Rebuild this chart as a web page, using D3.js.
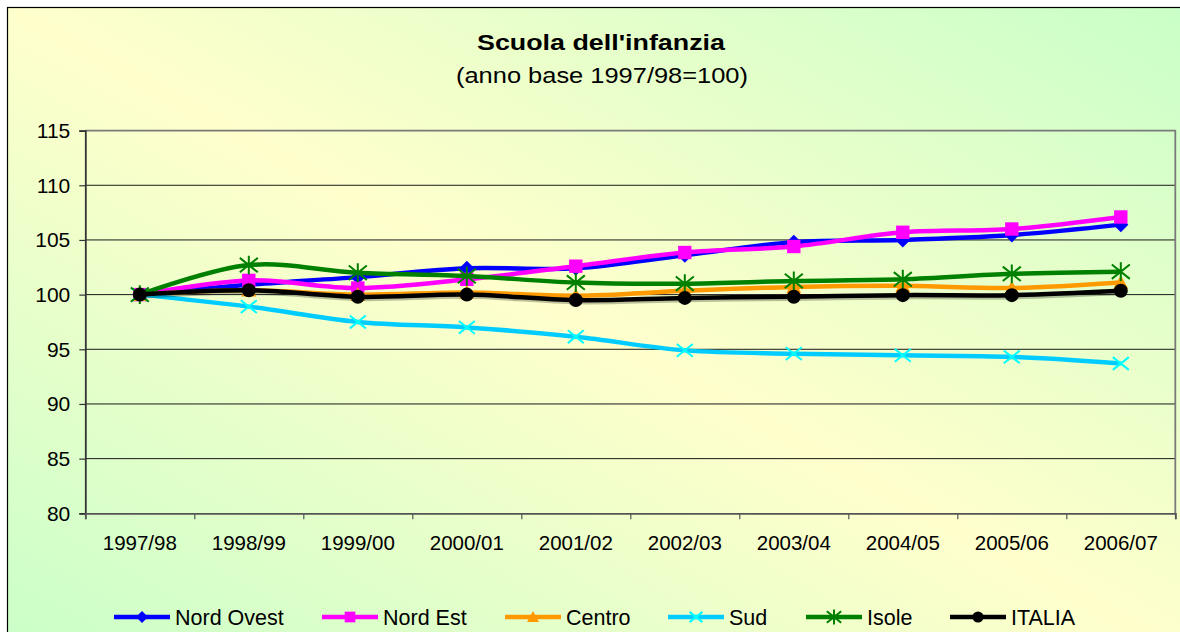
<!DOCTYPE html>
<html>
<head>
<meta charset="utf-8">
<script src="https://cdn.jsdelivr.net/npm/d3@7"></script>
<style>
  html, body { margin: 0; padding: 0; background: #ffffff; }
  svg { display: block; font-family: "Liberation Sans", Arial, sans-serif; }
</style>
</head>
<body>
<svg id="chart" width="1180" height="632"></svg>
<script>
// ---- data ----
const categories = ["1997/98","1998/99","1999/00","2000/01","2001/02","2002/03","2003/04","2004/05","2005/06","2006/07"];
const nordOvest = [100, 100.9, 101.6, 102.4, 102.4, 103.6, 104.8, 105.0, 105.45, 106.4];
const nordEst   = [100, 101.3, 100.6, 101.4, 102.6, 103.85, 104.4, 105.7, 106.0, 107.1];
const centro    = [100, 100.4, 100.0, 100.2, 99.9, 100.35, 100.7, 100.8, 100.6, 101.1];
const sud       = [100, 98.9, 97.5, 97.0, 96.15, 94.9, 94.6, 94.45, 94.3, 93.7];
const isole     = [100, 102.7, 102.0, 101.7, 101.1, 101.0, 101.25, 101.4, 101.9, 102.1];
const italia    = [100, 100.4, 99.8, 100.0, 99.5, 99.7, 99.8, 99.95, 99.95, 100.35];
const seriesNames = ["Nord Ovest","Nord Est","Centro","Sud","Isole","ITALIA"];
const yTicks = [80, 85, 90, 95, 100, 105, 110, 115];
const titleText = "Scuola dell'infanzia";
const subtitleText = "(anno base 1997/98=100)";

// ---- styles ----
const seriesValues = [nordOvest, nordEst, centro, sud, isole, italia];
const lineColors   = ["#0000FF", "#FF00FF", "#FF9900", "#00CCFF", "#008000", "#000000"];
const markerColors = ["#0000FF", "#FF00FF", "#FF9900", "#00FFFF", "#008000", "#000000"];
const markerTypes  = ["diamond", "square", "triangle", "x", "star", "circle"];

const svg = d3.select("#chart");
const W = 1180, H = 632;
const plot = { left: 85.3, right: 1175.3, top: 130.6, bottom: 513.3 };

// background gradient
const defs = svg.append("defs");
const grad = defs.append("linearGradient").attr("id", "bg")
  .attr("x1", 0).attr("y1", 1).attr("x2", 1).attr("y2", 0);
grad.append("stop").attr("offset", "0%").attr("stop-color", "#C8FFC8");
grad.append("stop").attr("offset", "50%").attr("stop-color", "#FFFFCC");
grad.append("stop").attr("offset", "100%").attr("stop-color", "#C8FFC8");

svg.append("rect").attr("x", 7.5).attr("y", 7.5).attr("width", 1200).attr("height", 660)
  .attr("fill", "url(#bg)").attr("stroke", "#000").attr("stroke-width", 1.2);

// scales
const xBand = d3.scaleBand().domain(categories).range([plot.left, plot.right]).padding(0);
const xPos = d => xBand(d) + xBand.bandwidth() / 2;
const xEdge = d3.scaleLinear().domain([0, categories.length]).range([plot.left, plot.right]);
const y = d3.scaleLinear().domain([80, 115]).range([plot.bottom, plot.top]);

// gridlines
svg.append("g").selectAll("line").data(yTicks.filter(t => t !== 80 && t !== 115)).join("line")
  .attr("x1", plot.left).attr("x2", plot.right)
  .attr("y1", d => y(d)).attr("y2", d => y(d))
  .attr("stroke", "#1a1a1a").attr("stroke-width", 1);

// plot border top & right
svg.append("path")
  .attr("d", `M${plot.left},${y(115)}H${plot.right}V${plot.bottom}`)
  .attr("fill", "none").attr("stroke", "#7a7a7a").attr("stroke-width", 1.8);

// y axis
const yAxis = d3.axisLeft(y).tickValues(yTicks).tickSize(6).tickPadding(9).tickFormat(d3.format("d"));
const gy = svg.append("g").attr("transform", `translate(${plot.left},0)`).call(yAxis);
gy.select(".domain").attr("stroke", "#333").attr("stroke-width", 1.8);
gy.selectAll(".tick line").attr("stroke", "#333").attr("stroke-width", 1.2);
gy.selectAll(".tick text").attr("font-size", 21).attr("fill", "#000")
  .attr("font-family", "'Liberation Sans', Arial, sans-serif");

// x axis: ticks at band edges
const xAxisTicks = d3.axisBottom(xEdge).tickValues(d3.range(0, categories.length + 1)).tickSize(6).tickFormat("");
const gx = svg.append("g").attr("transform", `translate(0,${plot.bottom})`).call(xAxisTicks);
gx.select(".domain").attr("stroke", "#555").attr("stroke-width", 1.8);
gx.selectAll(".tick line").attr("stroke", "#555").attr("stroke-width", 1.2);
// labels
const xAxisLabels = d3.axisBottom(xBand).tickSize(0).tickPadding(22);
const gxl = svg.append("g").attr("transform", `translate(0,${plot.bottom})`).call(xAxisLabels);
gxl.select(".domain").remove();
gxl.selectAll(".tick text").attr("font-size", 20.5).attr("fill", "#000")
  .attr("font-family", "'Liberation Sans', Arial, sans-serif");

// marker drawing
function drawMarker(g, type, color, s) {
  if (type === "diamond") {
    g.append("path").attr("d", `M0,${-s}L${s},0L0,${s}L${-s},0Z`).attr("fill", color);
  } else if (type === "square") {
    g.append("rect").attr("x", -s * 0.93).attr("y", -s * 0.93).attr("width", s * 1.86).attr("height", s * 1.86).attr("fill", color);
  } else if (type === "triangle") {
    g.append("path").attr("d", `M0,${-s}L${s},${s * 0.85}L${-s},${s * 0.85}Z`).attr("fill", color);
  } else if (type === "x") {
    g.append("path").attr("d", `M${-s},${-s * 0.8}L${s},${s * 0.8}M${-s},${s * 0.8}L${s},${-s * 0.8}`)
      .attr("stroke", color).attr("stroke-width", 2).attr("fill", "none");
  } else if (type === "star") {
    g.append("path").attr("d", `M${-s},${-s * 0.8}L${s},${s * 0.8}M${-s},${s * 0.8}L${s},${-s * 0.8}M0,${-s * 1.05}L0,${s * 1.05}`)
      .attr("stroke", color).attr("stroke-width", 2).attr("fill", "none");
  } else if (type === "circle") {
    g.append("circle").attr("r", s).attr("fill", color);
  }
}
const markerSize = { diamond: 7.5, square: 7.2, triangle: 7.5, x: 8, star: 9, circle: 7 };

// lines
const line = d3.line()
  .x((d, i) => xPos(categories[i]))
  .y(d => y(d))
  .curve(d3.curveCatmullRom.alpha(0.5));

seriesValues.forEach((vals, si) => {
  const g = svg.append("g");
  if (si === 5) {
    g.append("path").datum(vals).attr("d", line).attr("fill", "none")
      .attr("stroke", "#000").attr("stroke-opacity", 0.25).attr("stroke-width", 4.5)
      .attr("transform", "translate(1.5,2)");
  }
  g.append("path").datum(vals).attr("d", line)
    .attr("fill", "none").attr("stroke", lineColors[si]).attr("stroke-width", 4.5)
    .attr("stroke-linejoin", "round");
  vals.forEach((v, i) => {
    const mg = g.append("g").attr("transform", `translate(${xPos(categories[i])},${y(v)})`);
    drawMarker(mg, markerTypes[si], markerColors[si], markerSize[markerTypes[si]]);
  });
});

// title
svg.append("text").attr("x", 601).attr("y", 50).attr("text-anchor", "middle")
  .attr("font-size", 22).attr("font-weight", "bold").attr("fill", "#000")
  .attr("textLength", 248).attr("lengthAdjust", "spacingAndGlyphs")
  .text(titleText);
svg.append("text").attr("x", 602).attr("y", 83).attr("text-anchor", "middle")
  .attr("font-size", 21.5).attr("fill", "#000")
  .attr("textLength", 292).attr("lengthAdjust", "spacingAndGlyphs")
  .text(subtitleText);

// legend
const legendX = [114, 322, 505, 668, 806, 950];
const legendY = 617;
seriesNames.forEach((name, si) => {
  const g = svg.append("g").attr("transform", `translate(${legendX[si]},${legendY})`);
  g.append("line").attr("x1", 0).attr("x2", 56).attr("y1", 0).attr("y2", 0)
    .attr("stroke", lineColors[si]).attr("stroke-width", 4.5);
  const mg = g.append("g").attr("transform", "translate(28,0)");
  drawMarker(mg, markerTypes[si], markerColors[si], markerSize[markerTypes[si]] * 0.8);
  g.append("text").attr("x", 61).attr("y", 8).attr("font-size", 21.5).attr("fill", "#000").text(name);
});
</script>
</body>
</html>
